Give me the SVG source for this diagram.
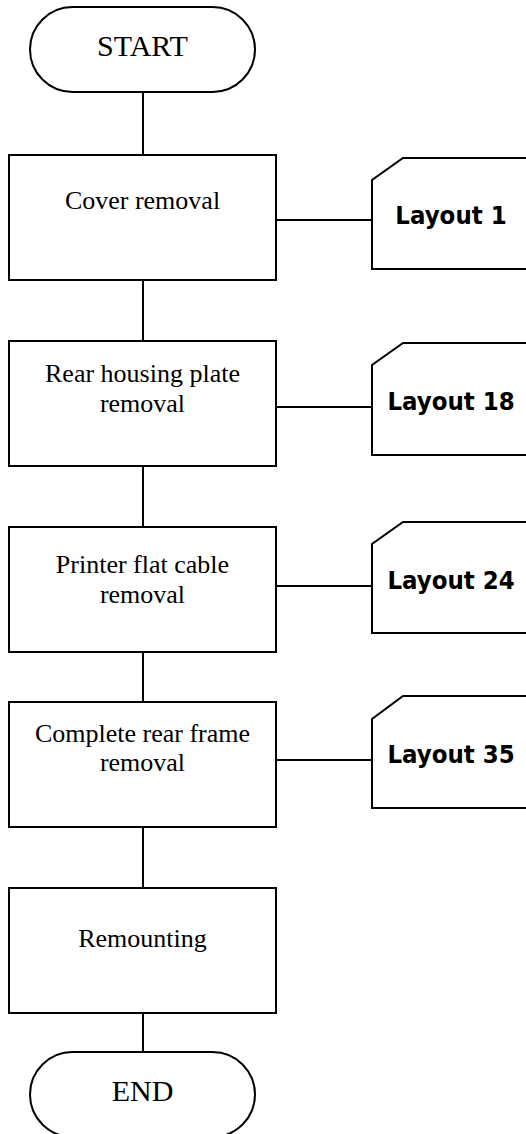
<svg xmlns="http://www.w3.org/2000/svg" width="526" height="1134" viewBox="0 0 526 1134">
<style>
.shape{fill:#fff;stroke:#000;stroke-width:2}
.conn line{stroke:#000;stroke-width:2}
.term{font-family:"Liberation Serif","Times New Roman",serif;font-size:30px;text-anchor:middle;fill:#000}
.step{font-family:"Liberation Serif","Times New Roman",serif;font-size:26px;text-anchor:middle;fill:#000}
.ref{font-family:"DejaVu Sans Condensed","DejaVu Sans",Verdana,sans-serif;font-weight:bold;font-size:25.5px;text-anchor:middle;fill:#000}
</style>
<rect width="526" height="1134" fill="#fff"/>
<g class="conn" id="connectors">
<line x1="143" y1="92" x2="143" y2="155"/>
<line x1="143" y1="280" x2="143" y2="341"/>
<line x1="143" y1="466" x2="143" y2="527"/>
<line x1="143" y1="652" x2="143" y2="702"/>
<line x1="143" y1="827" x2="143" y2="888"/>
<line x1="143" y1="1013" x2="143" y2="1052"/>
<line x1="276" y1="220" x2="372" y2="220"/>
<line x1="276" y1="407" x2="372" y2="407"/>
<line x1="276" y1="586" x2="372" y2="586"/>
<line x1="276" y1="760" x2="372" y2="760"/>
</g>
<g id="start">
<rect class="shape" x="30" y="7" width="225" height="85" rx="42.5" ry="42.5"/>
<text class="term" x="142.5" y="56">START</text>
</g>
<g id="step1">
<rect class="shape" x="9" y="155" width="267" height="125"/>
<text class="step" x="142.5" y="209">Cover removal</text>
</g>
<g id="step2">
<rect class="shape" x="9" y="341" width="267" height="125"/>
<text class="step" x="142.5" y="382">Rear housing plate</text>
<text class="step" x="142.5" y="412">removal</text>
</g>
<g id="step3">
<rect class="shape" x="9" y="527" width="267" height="125"/>
<text class="step" x="142.5" y="573">Printer flat cable</text>
<text class="step" x="142.5" y="603">removal</text>
</g>
<g id="step4">
<rect class="shape" x="9" y="702" width="267" height="125"/>
<text class="step" x="142.5" y="742">Complete rear frame</text>
<text class="step" x="142.5" y="771">removal</text>
</g>
<g id="step5">
<rect class="shape" x="9" y="888" width="267" height="125"/>
<text class="step" x="142.5" y="947">Remounting</text>
</g>
<g id="end">
<rect class="shape" x="30" y="1052" width="225" height="85" rx="42.5" ry="42.5"/>
<text class="term" x="142.5" y="1101">END</text>
</g>
<g id="layout1">
<polygon class="shape" points="403,158 530,158 530,269 372,269 372,180"/>
<text class="ref" x="451" y="224">Layout 1</text>
</g>
<g id="layout18">
<polygon class="shape" points="403,343 530,343 530,455 372,455 372,365"/>
<text class="ref" x="451" y="410">Layout 18</text>
</g>
<g id="layout24">
<polygon class="shape" points="403,522 530,522 530,633 372,633 372,544"/>
<text class="ref" x="451" y="589">Layout 24</text>
</g>
<g id="layout35">
<polygon class="shape" points="403,696 530,696 530,808 372,808 372,719"/>
<text class="ref" x="451" y="763">Layout 35</text>
</g>
</svg>
